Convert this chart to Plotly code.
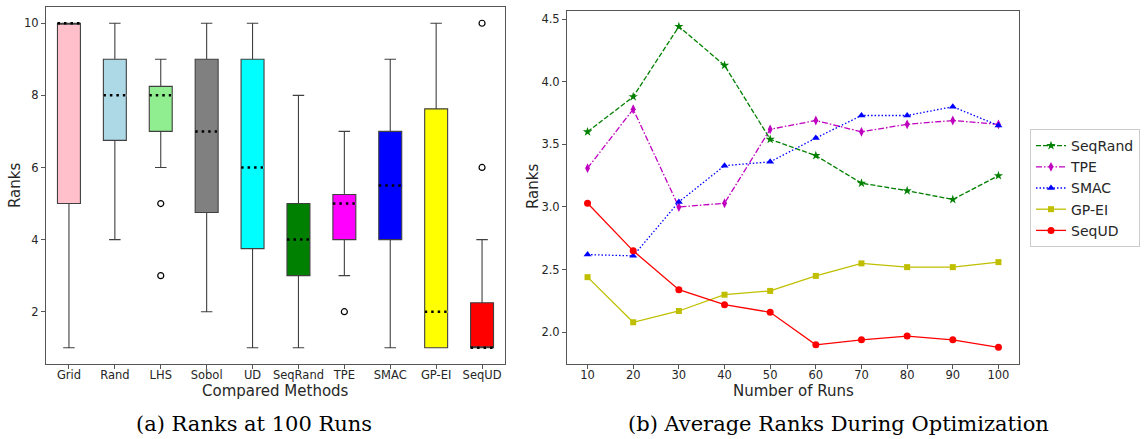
import plotly.graph_objects as go

# ---------------- data: (a) boxplots at 100 runs ----------------
methods = ["Grid", "Rand", "LHS", "Sobol", "UD", "SeqRand", "TPE", "SMAC", "GP-EI", "SeqUD"]
box_colors = ["pink", "lightblue", "lightgreen", "gray", "cyan", "green", "magenta", "blue", "yellow", "red"]
q1 = [5, 6.75, 7, 4.75, 3.75, 3, 4, 4, 1, 1]
median = [10, 8, 8, 7, 6, 4, 5, 5.5, 2, 1]
q3 = [10, 9, 8.25, 9, 9, 5, 5.25, 7, 7.625, 2.25]
lower = [1, 4, 6, 2, 1, 1, 3, 1, 1, 1]
upper = [10, 10, 9, 10, 10, 8, 7, 9, 10, 4]
outlier_method = ["LHS", "LHS", "TPE", "SeqUD", "SeqUD"]
outlier_value = [5, 3, 2, 6, 10]

# ---------------- data: (b) average ranks ----------------
runs = [10, 20, 30, 40, 50, 60, 70, 80, 90, 100]
seqrand = [3.60, 3.88, 4.44, 4.13, 3.54, 3.41, 3.19, 3.13, 3.06, 3.25]
tpe = [3.31, 3.78, 3.00, 3.03, 3.62, 3.69, 3.60, 3.66, 3.69, 3.66]
smac = [2.62, 2.61, 3.04, 3.33, 3.36, 3.55, 3.73, 3.73, 3.80, 3.65]
gpei = [2.44, 2.08, 2.17, 2.30, 2.33, 2.45, 2.55, 2.52, 2.52, 2.56]
sequd = [3.03, 2.65, 2.34, 2.22, 2.16, 1.90, 1.94, 1.97, 1.94, 1.88]

W, H = 1145, 439
EDGE = "#404040"
FONT = "DejaVu Sans"
TXT = "#262626"
SERIF = "DejaVu Serif"

fig = go.Figure()

pos = list(range(1, len(methods) + 1))
for i, m in enumerate(methods):
    fig.add_trace(go.Box(
        x=[pos[i]], q1=[q1[i]], median=[median[i]], q3=[q3[i]],
        lowerfence=[lower[i]], upperfence=[upper[i]],
        fillcolor=box_colors[i], line=dict(color=EDGE, width=1.1),
        width=0.5, whiskerwidth=0.5, showlegend=False, hoverinfo="skip",
        xaxis="x", yaxis="y", name=m,
    ))

# cover the solid median line with the fill colour, then draw dotted median
for i, m in enumerate(methods):
    xs = [pos[i] - 0.25, pos[i] + 0.25]
    if median[i] != q1[i] and median[i] != q3[i]:
        fig.add_trace(go.Scatter(x=xs, y=[median[i]] * 2, mode="lines",
                                 line=dict(color=box_colors[i], width=2.5),
                                 showlegend=False, hoverinfo="skip", xaxis="x", yaxis="y"))
    fig.add_trace(go.Scatter(x=xs, y=[median[i]] * 2, mode="lines",
                             line=dict(color="black", width=2.5, dash="2.5px,4px"),
                             showlegend=False, hoverinfo="skip", xaxis="x", yaxis="y"))

ox = [pos[methods.index(m)] for m in outlier_method]
fig.add_trace(go.Scatter(x=ox, y=outlier_value, mode="markers",
                         marker=dict(symbol="circle-open", size=6, color="black",
                                     line=dict(width=1.2)),
                         showlegend=False, xaxis="x", yaxis="y"))

# ---------------- lines ----------------
series = [
    ("SeqRand", seqrand, "green", "5px,2px", "star", 7),
    ("TPE", tpe, "#bf00bf", "6px,2px,1.5px,2px", "diamond-tall", 7),
    ("SMAC", smac, "blue", "1.5px,2px", "triangle-up", 7),
    ("GP-EI", gpei, "#bfbf00", "solid", "square", 6),
    ("SeqUD", sequd, "red", "solid", "circle", 7),
]
for name, vals, col, dash, sym, sz in series:
    fig.add_trace(go.Scatter(
        x=runs, y=vals, name=name, mode="lines+markers",
        line=dict(color=col, width=1.3, dash=dash),
        marker=dict(symbol=sym, size=sz, color=col),
        xaxis="x2", yaxis="y2",
    ))

axis_common = dict(
    showline=True, mirror=True, linecolor="#555555", linewidth=1,
    ticks="outside", ticklen=4, tickcolor="#555555",
    showgrid=False, zeroline=False,
    tickfont=dict(family=FONT, size=11.5, color=TXT),
)

fig.update_layout(
    width=W, height=H,
    margin=dict(l=0, r=0, t=0, b=0),
    paper_bgcolor="white", plot_bgcolor="white",
    font=dict(family=FONT, color=TXT),
    xaxis=dict(domain=[46 / W, 505 / W], range=[0.5, 10.5], ticklabelstandoff=-4,
               tickvals=pos, ticktext=methods, anchor="y", **axis_common),
    yaxis=dict(domain=[1 - 364 / H, 1 - 7 / H], range=[0.55, 10.45],
               tickvals=[2, 4, 6, 8, 10], anchor="x", **axis_common),
    xaxis2=dict(domain=[567 / W, 1019 / W], range=[5.5, 104.5], ticklabelstandoff=-4,
                tickvals=runs, anchor="y2", **axis_common),
    yaxis2=dict(domain=[1 - 364 / H, 1 - 11 / H], range=[1.747, 4.564],
                tickvals=[2.0, 2.5, 3.0, 3.5, 4.0, 4.5], tickformat=".1f",
                anchor="x2", **axis_common),
    legend=dict(x=1030 / W, y=1 - 188 / H, xanchor="left", yanchor="middle",
                bordercolor="#cccccc", borderwidth=1, bgcolor="white",
                font=dict(family=FONT, size=14, color=TXT)),
)

def label(text, x, y, size, angle=0, family=FONT, color=TXT):
    fig.add_annotation(text=text, x=x / W, y=1 - y / H, xref="paper", yref="paper",
                       showarrow=False, xanchor="center", yanchor="middle",
                       textangle=angle, font=dict(family=family, size=size, color=color))

label("Compared Methods", 275, 391, 15)
label("Number of Runs", 793, 391, 15)
label("Ranks", 15, 186, 15, angle=-90)
label("Ranks", 533, 187, 15, angle=-90)
label("(a) Ranks at 100 Runs", 254, 424, 21, family=SERIF, color="black")
label("(b) Average Ranks During Optimization", 838, 424, 21, family=SERIF, color="black")

fig.write_html("out.html")
